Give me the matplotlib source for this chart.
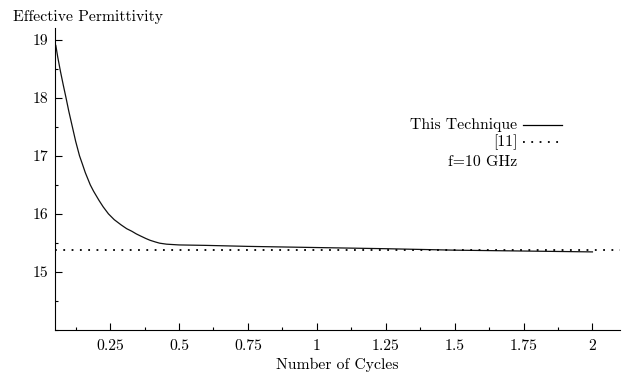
import matplotlib
matplotlib.use("Agg")
import matplotlib.pyplot as plt
from matplotlib.ticker import MultipleLocator

plt.rcParams['font.family'] = ['cmr10', 'DejaVu Serif']
plt.rcParams['axes.formatter.use_mathtext'] = True

# values
cycles = [0.053, 0.06, 0.07, 0.08, 0.09, 0.1, 0.113, 0.125, 0.139, 0.15,
          0.16, 0.178, 0.19, 0.21, 0.225, 0.244, 0.265, 0.29, 0.31, 0.329,
          0.345, 0.36, 0.38, 0.395, 0.415, 0.43, 0.455, 0.5, 0.6, 0.75,
          1.0, 1.25, 1.5, 1.75, 2.0]
permittivity = [18.9, 18.7, 18.45, 18.22, 18.0, 17.77, 17.5, 17.25, 17.0, 16.85,
                16.71, 16.5, 16.39, 16.23, 16.12, 16.0, 15.9, 15.81, 15.745, 15.70,
                15.655, 15.62, 15.575, 15.545, 15.515, 15.495, 15.478, 15.465, 15.457, 15.44,
                15.42, 15.40, 15.375, 15.36, 15.345]
ref_level = 15.375  # [11]

x_ticks = [0.25, 0.5, 0.75, 1.0, 1.25, 1.5, 1.75, 2.0]
x_labels = ["0.25", "0.5", "0.75", "1", "1.25", "1.5", "1.75", "2"]
y_ticks = [15, 16, 17, 18, 19]
y_labels = ["15", "16", "17", "18", "19"]

fs = 11.3

fig = plt.figure(figsize=(6.29, 3.76), dpi=100)
ax = fig.add_axes([0.0874, 0.1223, 0.8983, 0.8032])

ax.plot(cycles, permittivity, color='#111111', lw=0.9)
ax.axhline(ref_level, color='black', lw=1.3, ls=(0, (1, 3.6)))

ax.set_xlim(0.05, 2.1)
ax.set_ylim(14, 19.2)

ax.spines['top'].set_visible(False)
ax.spines['right'].set_visible(False)
for s in ('left', 'bottom'):
    ax.spines[s].set_linewidth(0.8)

ax.set_xticks(x_ticks)
ax.set_xticklabels(x_labels)
ax.set_yticks(y_ticks)
ax.set_yticklabels(y_labels)
ax.xaxis.set_minor_locator(MultipleLocator(0.125))
ax.yaxis.set_minor_locator(MultipleLocator(0.5))
ax.tick_params(which='both', direction='in', width=0.8, labelsize=fs)
ax.tick_params(which='major', length=5)
ax.tick_params(which='minor', length=2.5)
ax.tick_params(axis='x', pad=7)
ax.tick_params(axis='y', pad=5)

ax.set_xlabel("Number of Cycles", fontsize=fs, labelpad=3)
fig.text(13 / 629, 1 - 17 / 376, "Effective Permittivity", fontsize=fs,
         ha='left', va='center')

# key, drawn by hand like the original
tx = 0.818
ax.text(tx, 0.679, "This Technique", transform=ax.transAxes, ha='right',
        va='center', fontsize=fs)
ax.plot([0.828, 0.897], [0.679, 0.679], transform=ax.transAxes,
        color='black', lw=0.9)
ax.text(tx, 0.623, "[11]", transform=ax.transAxes, ha='right',
        va='center', fontsize=fs)
ax.plot([0.828, 0.897], [0.623, 0.623], transform=ax.transAxes,
        color='black', lw=1.3, ls=(0, (1, 3.6)))
ax.text(tx, 0.556, "f=10 GHz", transform=ax.transAxes, ha='right',
        va='center', fontsize=fs)

fig.savefig("out.png", dpi=100)
